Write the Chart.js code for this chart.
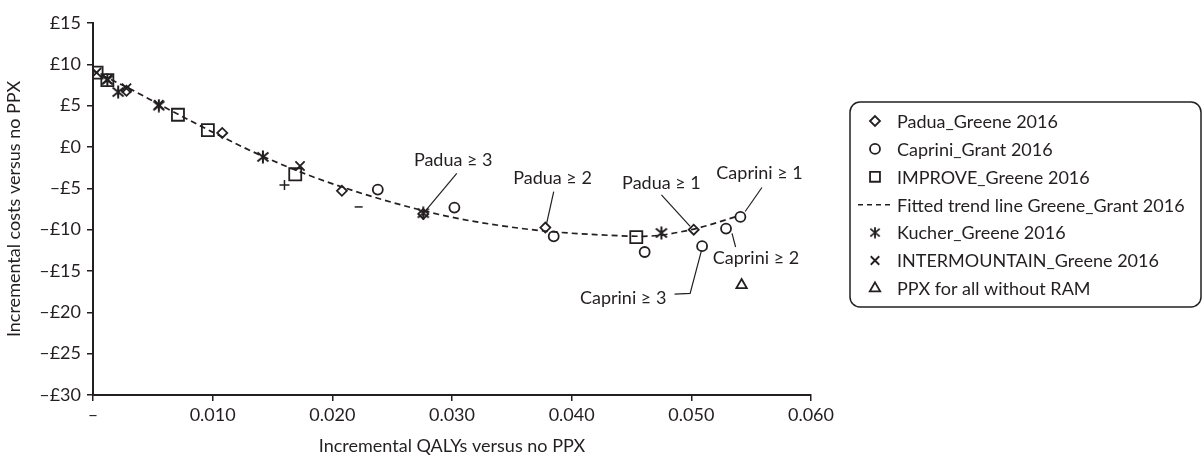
<!DOCTYPE html>
<html>
<head>
<meta charset="utf-8">
<script src="https://cdn.jsdelivr.net/npm/chart.js@4/dist/chart.umd.min.js"></script>
<style>
  html, body { margin: 0; padding: 0; background: #fff; }
  #chart { display: block; }
</style>
</head>
<body>
<canvas id="chart" width="1203" height="459"></canvas>
<script>
// values (x = incremental QALYs, y = incremental costs £)
const paduaX = [0.0028, 0.0108, 0.0208, 0.0276, 0.0378, 0.0502];
const paduaY = [6.8, 1.7, -5.3, -8.1, -9.75, -10.0];

const capriniX = [0.0238, 0.0302, 0.0385, 0.0461, 0.0509, 0.0529, 0.0541];
const capriniY = [-5.15, -7.33, -10.8, -12.7, -12.0, -9.87, -8.46];

const improveX = [0.0003, 0.0012, 0.0071, 0.0096, 0.0169, 0.0454];
const improveY = [9.0, 8.1, 3.9, 2.05, -3.3, -10.9];

const trendX = [0, 0.003, 0.006, 0.010, 0.014, 0.018, 0.022, 0.026, 0.030, 0.034, 0.038, 0.042, 0.046, 0.050, 0.0538];
const trendY = [9.2, 7.1, 4.8, 1.8, -1.0, -3.4, -5.4, -7.1, -8.5, -9.5, -10.2, -10.6, -10.8, -10.0, -8.4];

const kucherX = [0.0012, 0.0021, 0.0055, 0.0142, 0.0276, 0.0475];
const kucherY = [8.1, 6.65, 5.0, -1.2, -8.0, -10.4];

const interX = [0.0003, 0.0012, 0.0028, 0.0055, 0.0173];
const interY = [9.0, 8.2, 7.1, 5.1, -2.3];

const ppxAllX = [0.0542];
const ppxAllY = [-16.7];

// stray "+" and "–" marks printed near the line
const plusX = [0.0160];
const plusY = [-4.6];
const minusX = [0.0222];
const minusY = [-7.25];

const xTicks = [0, 0.010, 0.020, 0.030, 0.040, 0.050, 0.060];
const yTicks = [15, 10, 5, 0, -5, -10, -15, -20, -25, -30];

const ink = '#231f20';
const font = "Lato, 'Open Sans', sans-serif";

const pts = (xs, ys) => xs.map((x, i) => ({ x: x, y: ys[i] }));

// six-armed asterisk used for Kucher (X with a vertical bar)
const asterisk = document.createElement('canvas');
asterisk.width = 14;
asterisk.height = 14;
(() => {
    const c = asterisk.getContext('2d');
    c.strokeStyle = ink;
    c.lineWidth = 2;
    c.beginPath();
    c.moveTo(7, 0.5); c.lineTo(7, 13.5);
    c.moveTo(1.5, 2.5); c.lineTo(12.5, 11.5);
    c.moveTo(12.5, 2.5); c.lineTo(1.5, 11.5);
    c.stroke();
})();

// callouts: text position, then leader line points (data coords)
const callouts = [
    { text: 'Padua \u2265 3', at: [0.0301, -1.6], line: [[0.0304, -3.2], [0.0278, -7.7]] },
    { text: 'Padua \u2265 2', at: [0.0384, -3.75], line: [[0.0385, -5.4], [0.0379, -9.3]] },
    { text: 'Padua \u2265 1', at: [0.0475, -4.35], line: [[0.0475, -5.8], [0.0499, -9.6]] },
    { text: 'Caprini \u2265 1', at: [0.0557, -3.15], line: [[0.0559, -4.9], [0.0545, -7.8]] },
    { text: 'Caprini \u2265 2', at: [0.0554, -13.45], line: [[0.0534, -10.45], [0.0537, -12.1]] },
    { text: 'Caprini \u2265 3', at: [0.0443, -18.25], line: [[0.0486, -17.8], [0.0499, -17.7], [0.05085, -12.5]] }
];

const legendItems = [
    { label: 'Padua_Greene 2016', style: 'rectRot', r: 5 },
    { label: 'Caprini_Grant 2016', style: 'circle', r: 5 },
    { label: 'IMPROVE_Greene 2016', style: 'rect', r: 7 },
    { label: 'Fitted trend line Greene_Grant 2016', style: 'dash' },
    { label: 'Kucher_Greene 2016', style: 'asterisk' },
    { label: 'INTERMOUNTAIN_Greene 2016', style: 'crossRot', r: 6 },
    { label: 'PPX for all without RAM', style: 'triangle', r: 6 }
];

const overlay = {
    id: 'overlay',
    afterDatasetsDraw(chart) {
        const ctx = chart.ctx;
        const xs = chart.scales.x, ys = chart.scales.y;
        ctx.save();
        ctx.fillStyle = ink;
        ctx.strokeStyle = ink;
        ctx.font = '18px ' + font;
        ctx.textAlign = 'center';
        ctx.textBaseline = 'middle';
        ctx.lineWidth = 1.2;
        callouts.forEach(c => {
            ctx.fillText(c.text, xs.getPixelForValue(c.at[0]), ys.getPixelForValue(c.at[1]));
            ctx.beginPath();
            c.line.forEach((p, i) => {
                const px = xs.getPixelForValue(p[0]), py = ys.getPixelForValue(p[1]);
                if (i === 0) ctx.moveTo(px, py); else ctx.lineTo(px, py);
            });
            ctx.stroke();
        });

        // legend box
        const bx = 850, by = 102, bw = 351, bh = 205, rad = 10;
        ctx.lineWidth = 1.5;
        ctx.beginPath();
        ctx.roundRect(bx, by, bw, bh, rad);
        ctx.stroke();
        ctx.textAlign = 'left';
        const rowH = 27.9;
        legendItems.forEach((it, i) => {
            const y = 121 + i * rowH;
            const mx = 875;
            if (it.style === 'dash') {
                ctx.save();
                ctx.lineWidth = 1.6;
                ctx.setLineDash([5, 4]);
                ctx.beginPath();
                ctx.moveTo(858, y);
                ctx.lineTo(893, y);
                ctx.stroke();
                ctx.restore();
            } else if (it.style === 'asterisk') {
                ctx.drawImage(asterisk, mx - 6, y - 6, 12, 12);
            } else {
                ctx.save();
                ctx.fillStyle = 'rgba(0,0,0,0)';
                ctx.lineWidth = 1.8;
                Chart.helpers.drawPoint(ctx, { pointStyle: it.style, radius: it.r, rotation: 0, borderWidth: 1.8 }, mx, y);
                ctx.restore();
            }
            ctx.fillText(it.label, 897, y + 1);
        });
        ctx.restore();
    }
};

const scatterSet = (label, data, style, r, extra) => Object.assign({
    type: 'scatter',
    label: label,
    data: data,
    pointStyle: style,
    pointRadius: r,
    pointHoverRadius: r,
    borderColor: ink,
    backgroundColor: 'rgba(0,0,0,0)',
    pointBorderWidth: 1.8,
    order: 1
}, extra || {});

new Chart(document.getElementById('chart'), {
    type: 'scatter',
    data: {
        datasets: [
            {
                type: 'line',
                label: 'Fitted trend line Greene_Grant 2016',
                data: pts(trendX, trendY),
                borderColor: ink,
                borderWidth: 1.7,
                borderDash: [6, 4],
                pointRadius: 0,
                fill: false,
                tension: 0.4,
                cubicInterpolationMode: 'monotone',
                order: 10
            },
            scatterSet('Padua_Greene 2016', pts(paduaX, paduaY), 'rectRot', 5),
            scatterSet('Caprini_Grant 2016', pts(capriniX, capriniY), 'circle', 5),
            scatterSet('IMPROVE_Greene 2016', pts(improveX, improveY), 'rect', 8.5),
            scatterSet('Kucher_Greene 2016', pts(kucherX, kucherY), asterisk, 7),
            scatterSet('INTERMOUNTAIN_Greene 2016', pts(interX, interY), 'crossRot', 6.5),
            scatterSet('PPX for all without RAM', pts(ppxAllX, ppxAllY), 'triangle', 6),
            scatterSet('plus', pts(plusX, plusY), 'cross', 5, { pointBorderWidth: 1.5 }),
            scatterSet('minus', pts(minusX, minusY), 'line', 4, { pointBorderWidth: 1.5 })
        ]
    },
    options: {
        responsive: false,
        animation: false,
        events: [],
        layout: { padding: { left: 0, top: 23, right: 392, bottom: 0 } },
        plugins: {
            legend: { display: false },
            tooltip: { enabled: false },
            title: { display: false }
        },
        scales: {
            x: {
                type: 'linear',
                min: 0,
                max: 0.06,
                afterBuildTicks: s => { s.ticks = xTicks.map(v => ({ value: v })); },
                afterFit: s => { s.height = 64; },
                border: { display: true, color: ink, width: 2 },
                grid: { display: true, drawOnChartArea: false, drawTicks: true, tickLength: 6, color: ink, lineWidth: 1.5 },
                ticks: {
                    color: ink,
                    font: { family: font, size: 18 },
                    padding: 3,
                    maxRotation: 0,
                    callback: v => v === 0 ? '\u2013' : v.toFixed(3)
                },
                title: {
                    display: true,
                    text: 'Incremental QALYs versus no PPX',
                    color: ink,
                    font: { family: font, size: 18 },
                    padding: { top: 0, bottom: 2 }
                }
            },
            y: {
                type: 'linear',
                min: -30,
                max: 15,
                afterBuildTicks: s => { s.ticks = yTicks.map(v => ({ value: v })); },
                afterFit: s => { s.width = 93; },
                border: { display: true, color: ink, width: 2 },
                grid: { display: true, drawOnChartArea: false, drawTicks: true, tickLength: 6, color: ink, lineWidth: 1.5 },
                ticks: {
                    color: ink,
                    font: { family: font, size: 18 },
                    padding: 6,
                    callback: v => v < 0 ? '\u2013\u00a3' + Math.abs(v) : '\u00a3' + v
                },
                title: {
                    display: true,
                    text: 'Incremental costs versus no PPX',
                    color: ink,
                    font: { family: font, size: 18 },
                    padding: { top: 3, bottom: 0 }
                }
            }
        }
    },
    plugins: [overlay]
});
</script>
</body>
</html>
